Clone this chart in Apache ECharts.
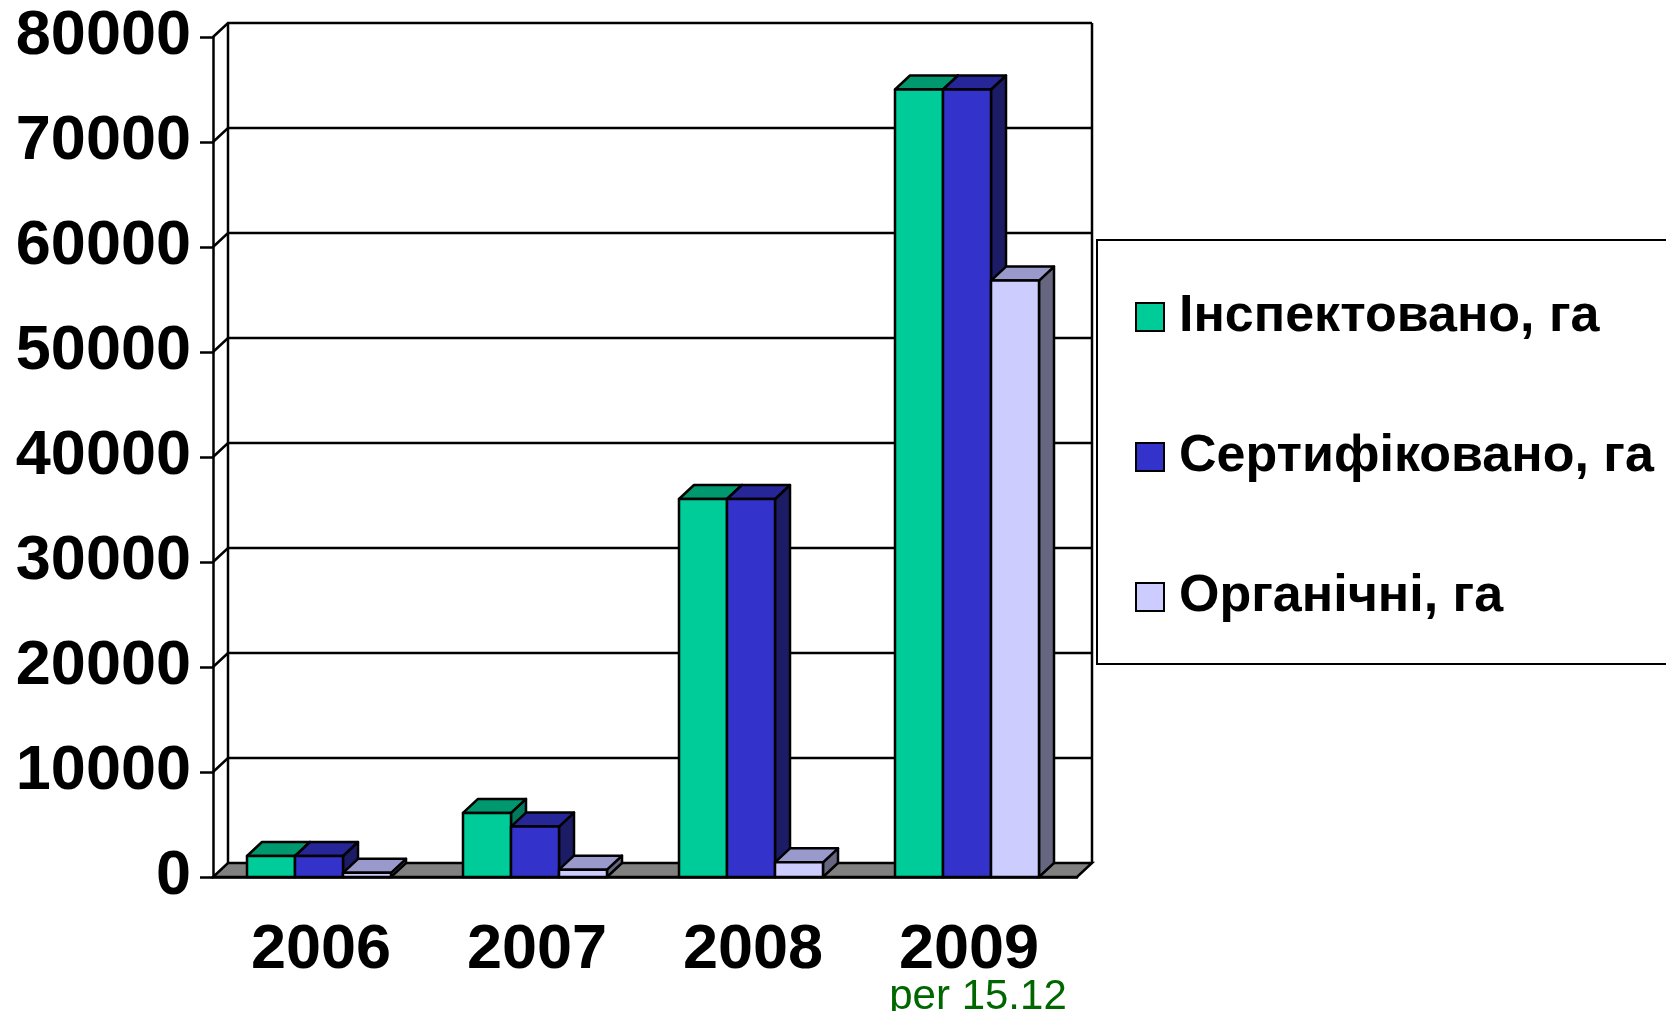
<!DOCTYPE html>
<html>
<head>
<meta charset="utf-8">
<script src="https://cdn.jsdelivr.net/npm/echarts@6/dist/echarts.min.js"></script>
<style>
  html, body { margin: 0; padding: 0; background: #fff; }
  #chart { width: 1666px; height: 1011px; }
</style>
</head>
<body>
<div id="chart"></div>
<script>
var years = ['2006', '2007', '2008', '2009'];
var inspected = [2000, 6100, 36000, 75000];
var certified = [2000, 4800, 36000, 75000];
var organic = [400, 700, 1400, 56800];
var yTicks = [0, 10000, 20000, 30000, 40000, 50000, 60000, 70000, 80000];

var FONT = '"Liberation Sans", Arial, sans-serif';
var DX = 15, DY = -14;        // глубина "3D"
var BAR_RATIO = 48 / 216;     // ширина столбика от ширины категории
var LW = 2.5;

// стены, пол и линии сетки
function renderFrame(params, api) {
    var cs = params.coordSys;
    var left = cs.x, right = cs.x + cs.width;
    var children = [];
    var y0 = api.coord([0, 0])[1];
    var yTop = api.coord([0, yTicks[yTicks.length - 1]])[1];
    children.push({
        type: 'polygon',
        shape: {points: [[left, y0], [right, y0], [right + DX, y0 + DY], [left + DX, y0 + DY]]},
        style: {fill: '#808080', stroke: '#000', lineWidth: LW}
    });
    children.push({
        type: 'line',
        shape: {x1: left + DX, y1: yTop + DY, x2: left + DX, y2: y0 + DY},
        style: {stroke: '#000', lineWidth: LW}
    });
    children.push({
        type: 'line',
        shape: {x1: right + DX, y1: yTop + DY, x2: right + DX, y2: y0 + DY},
        style: {stroke: '#000', lineWidth: LW}
    });
    for (var i = 1; i < yTicks.length; i++) {
        var y = api.coord([0, yTicks[i]])[1];
        children.push({
            type: 'polyline',
            shape: {points: [[left, y], [left + DX, y + DY], [right + DX, y + DY]]},
            style: {stroke: '#000', lineWidth: LW, fill: null}
        });
    }
    return {type: 'group', children: children};
}

function makeBar(k, front, top, side) {
    return function (params, api) {
        var idx = api.value(0), val = api.value(1);
        var base = api.coord([idx, 0]);
        var tp = api.coord([idx, val]);
        var bw = api.size([1, 0])[0] * BAR_RATIO;
        var x0 = base[0] - 1.5 * bw + k * bw - 2, x1 = x0 + bw;
        var yb = base[1], yt = tp[1];
        var st = {stroke: '#000', lineWidth: LW, lineJoin: 'round'};
        return {
            type: 'group',
            children: [
                {type: 'polygon', shape: {points: [[x1, yt], [x1 + DX, yt + DY], [x1 + DX, yb + DY], [x1, yb]]},
                    style: Object.assign({fill: side}, st)},
                {type: 'polygon', shape: {points: [[x0, yt], [x0 + DX, yt + DY], [x1 + DX, yt + DY], [x1, yt]]},
                    style: Object.assign({fill: top}, st)},
                {type: 'rect', shape: {x: x0, y: yt, width: bw, height: yb - yt},
                    style: Object.assign({fill: front}, st)}
            ]
        };
    };
}

function toData(arr) {
    return arr.map(function (v, i) { return [i, v]; });
}

var chart = echarts.init(document.getElementById('chart'));
chart.setOption({
    animation: false,
    backgroundColor: '#fff',
    textStyle: {fontFamily: FONT},
    grid: {left: 213, right: 589, top: 37, bottom: 134, containLabel: false, outerBoundsMode: 'none'},
    legend: {
        orient: 'vertical',
        left: 1097,
        top: 240,
        padding: [51, 300, 41, 38],
        backgroundColor: '#fff',
        borderColor: '#000',
        borderWidth: 2,
        borderRadius: 0,
        itemWidth: 28,
        itemHeight: 28,
        itemGap: 88,
        selectedMode: false,
        textStyle: {fontFamily: FONT, fontSize: 52, fontWeight: 'bold', color: '#000', lineHeight: 48, padding: [0, 0, 0, 10]},
        data: [
            {name: 'Інспектовано, га', icon: 'rect', itemStyle: {color: '#00CC99', borderColor: '#000', borderWidth: 2}},
            {name: 'Сертифіковано, га', icon: 'rect', itemStyle: {color: '#3333CC', borderColor: '#000', borderWidth: 2}},
            {name: 'Органічні, га', icon: 'rect', itemStyle: {color: '#CCCCFF', borderColor: '#000', borderWidth: 2}}
        ]
    },
    xAxis: {
        type: 'category',
        data: years,
        boundaryGap: true,
        axisLine: {lineStyle: {color: '#000', width: LW}},
        axisTick: {length: 14, lineStyle: {color: '#000', width: LW}},
        splitLine: {show: false},
        axisLabel: {
            interval: 0,
            hideOverlap: false,
            margin: 44,
            color: '#000',
            fontFamily: FONT,
            fontSize: 63,
            fontWeight: 'bold',
            lineHeight: 60,
            formatter: function (v, i) {
                return i === 3 ? v + '\n{s|per 15.12}' : v;
            },
            rich: {
                s: {fontFamily: FONT, fontSize: 42, fontWeight: 'normal', color: '#006600', lineHeight: 32, padding: [0, 0, 0, 18]}
            }
        }
    },
    yAxis: {
        type: 'value',
        min: 0,
        max: 80000,
        interval: 10000,
        axisLine: {show: true, lineStyle: {color: '#000', width: LW}},
        axisTick: {show: true, length: 13, lineStyle: {color: '#000', width: LW}},
        splitLine: {show: false},
        axisLabel: {margin: 22, color: '#000', fontFamily: FONT, fontSize: 63, fontWeight: 'bold',
            formatter: function (v) { return String(v); }}
    },
    series: [
        {type: 'custom', name: 'frame', z: 1, silent: true, renderItem: renderFrame, data: [[0, 0]]},
        {type: 'custom', name: 'Інспектовано, га', z: 2, itemStyle: {color: '#00CC99'},
            renderItem: makeBar(0, '#00CC99', '#00996F', '#007A5C'), data: toData(inspected)},
        {type: 'custom', name: 'Сертифіковано, га', z: 2, itemStyle: {color: '#3333CC'},
            renderItem: makeBar(1, '#3333CC', '#262699', '#1C1C66'), data: toData(certified)},
        {type: 'custom', name: 'Органічні, га', z: 2, itemStyle: {color: '#CCCCFF'},
            renderItem: makeBar(2, '#CCCCFF', '#9999CC', '#666680'), data: toData(organic)}
    ]
});
</script>
</body>
</html>
